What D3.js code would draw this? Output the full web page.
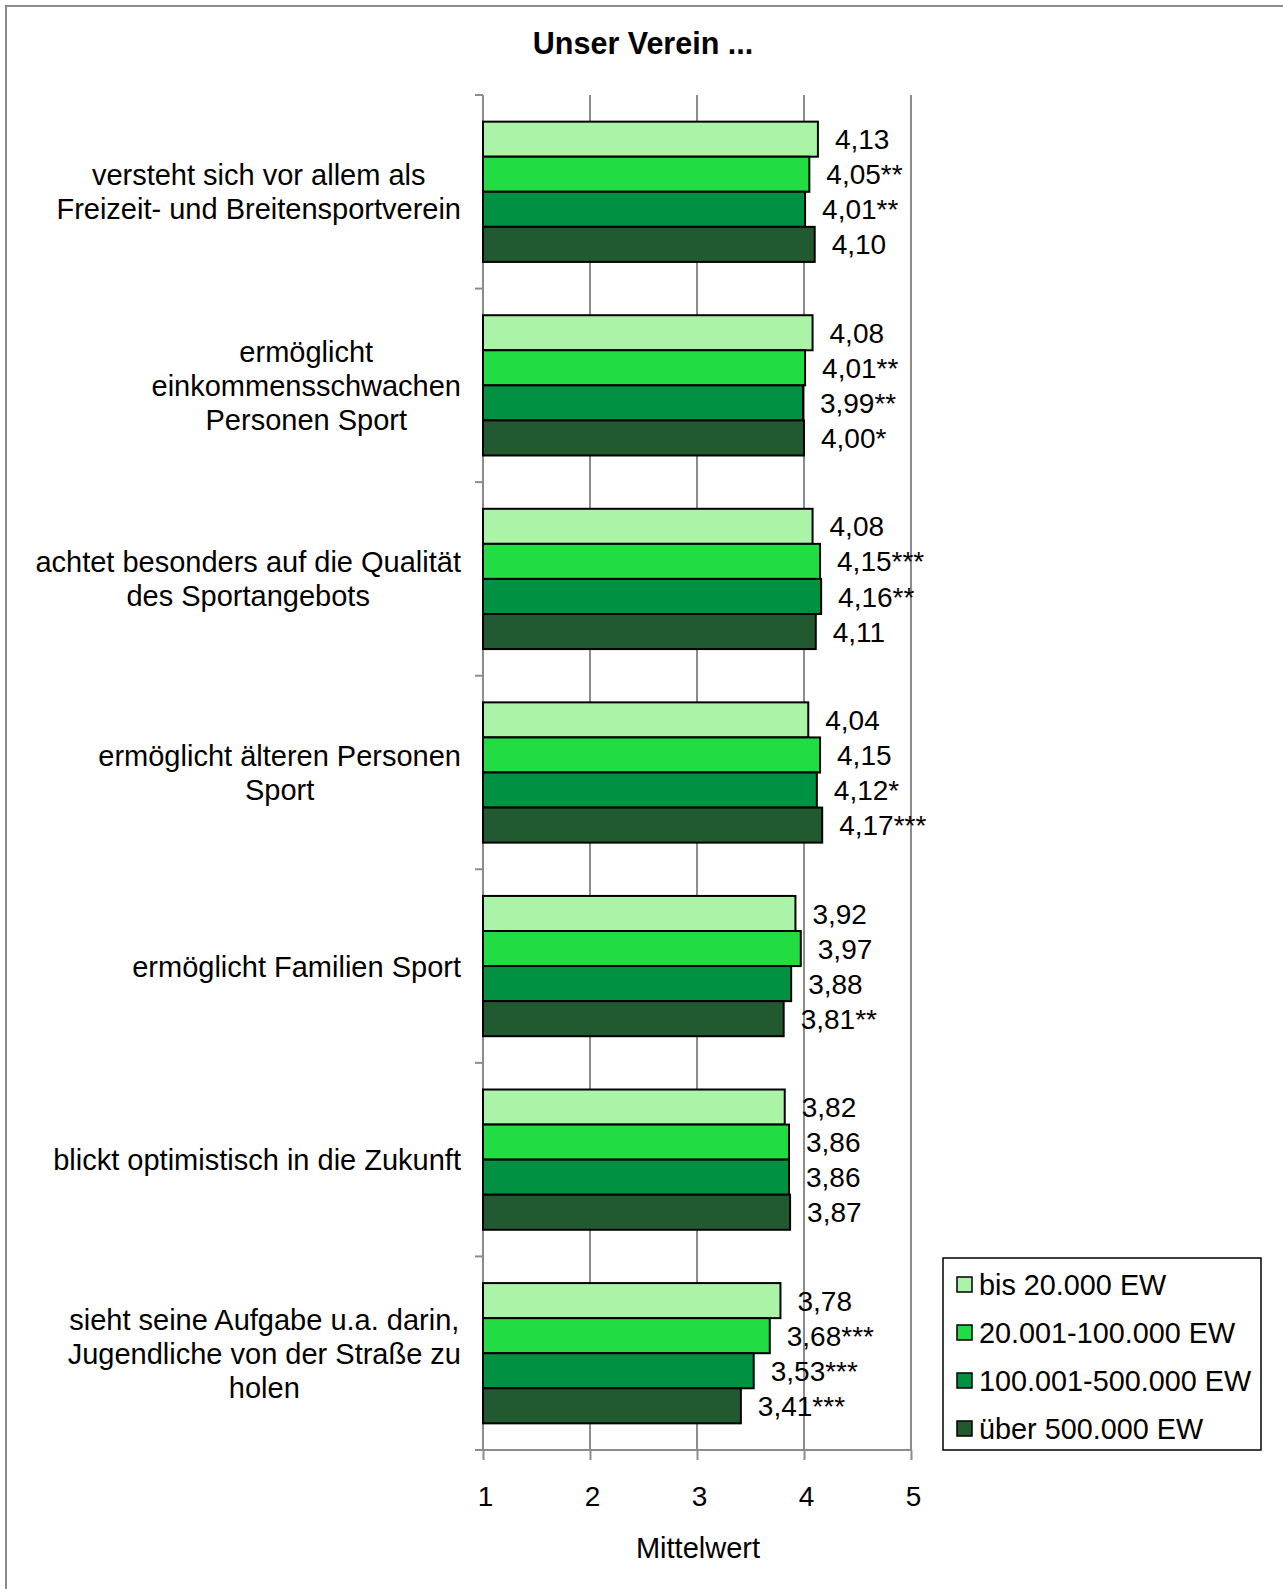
<!DOCTYPE html>
<html>
<head>
<meta charset="utf-8">
<script src="https://cdn.jsdelivr.net/npm/d3@7"></script>
<style>
  body { margin: 0; background: #fff; }
  svg { font-family: "Liberation Sans", Arial, sans-serif; }
</style>
</head>
<body>
<div id="chart"></div>
<script>
(function () {

  /***** Data *****/
  var categories = [
    ["versteht sich vor allem als", "Freizeit- und Breitensportverein"],
    ["ermöglicht", "einkommensschwachen", "Personen Sport"],
    ["achtet besonders auf die Qualität", "des Sportangebots"],
    ["ermöglicht älteren Personen", "Sport"],
    ["ermöglicht Familien Sport"],
    ["blickt optimistisch in die Zukunft"],
    ["sieht seine Aufgabe u.a. darin,", "Jugendliche von der Straße zu", "holen"]
  ]

  var seriesNames = ["bis 20.000 EW", "20.001-100.000 EW", "100.001-500.000 EW", "über 500.000 EW"]

  var bis20k      = [4.13, 4.08, 4.08, 4.04, 3.92, 3.82, 3.78]
  var bis100k     = [4.05, 4.01, 4.15, 4.15, 3.97, 3.86, 3.68]
  var bis500k     = [4.01, 3.99, 4.16, 4.12, 3.88, 3.86, 3.53]
  var ueber500k   = [4.10, 4.00, 4.11, 4.17, 3.81, 3.87, 3.41]

  var sig20k      = ["", "", "", "", "", "", ""]
  var sig100k     = ["**", "**", "***", "", "", "", "***"]
  var sig500k     = ["**", "**", "**", "*", "", "", "***"]
  var sigUeber    = ["", "*", "", "***", "**", "", "***"]

  var xTicks = [1, 2, 3, 4, 5]

  var seriesValues = [bis20k, bis100k, bis500k, ueber500k]
  var seriesSig = [sig20k, sig100k, sig500k, sigUeber]
  var colors = ["#aaf3a7", "#22dc44", "#009142", "#215a30"]

  /***** Layout *****/
  var W = 1283, H = 1589
  var plotTop = 95, plotBottom = 1450, plotLeft = 483, plotRight = 911
  var fmt = v => v.toFixed(2).replace(".", ",")

  var svg = d3.select("#chart").append("svg")
      .attr("width", W).attr("height", H)

  // outer frame
  svg.append("rect")
      .attr("x", 6).attr("y", 6)
      .attr("width", W + 10).attr("height", H + 10)
      .attr("fill", "none").attr("stroke", "#8a8a8a").attr("stroke-width", 2)

  svg.append("text")
      .attr("x", 643).attr("y", 54)
      .attr("text-anchor", "middle")
      .attr("font-size", 30.5).attr("font-weight", "bold")
      .text("Unser Verein ...")

  var x = d3.scaleLinear().domain([1, 5]).range([plotLeft, plotRight])
  var idx = d3.range(categories.length)
  var y0 = d3.scaleBand().domain(idx).range([plotTop, plotBottom]).padding(0)
  var y1 = d3.scaleBand().domain(d3.range(seriesNames.length))
      .range([0, y0.bandwidth()]).paddingInner(0).paddingOuter(0.76)

  // gridlines
  svg.append("g").selectAll("line")
      .data(xTicks.slice(1))
      .join("line")
      .attr("x1", d => x(d)).attr("x2", d => x(d))
      .attr("y1", plotTop).attr("y2", plotBottom)
      .attr("stroke", "#8c8c8c").attr("stroke-width", 2)

  // category axis (left) with boundary ticks
  var yAxis = svg.append("g")
  yAxis.append("line")
      .attr("x1", plotLeft).attr("x2", plotLeft)
      .attr("y1", plotTop).attr("y2", plotBottom)
      .attr("stroke", "#8c8c8c").attr("stroke-width", 2)
  yAxis.selectAll("line.tick")
      .data(idx.concat([categories.length]))
      .join("line").attr("class", "tick")
      .attr("x1", plotLeft - 8).attr("x2", plotLeft)
      .attr("y1", d => d < categories.length ? y0(d) : plotBottom)
      .attr("y2", d => d < categories.length ? y0(d) : plotBottom)
      .attr("stroke", "#8c8c8c").attr("stroke-width", 2)

  // bars
  var groups = svg.append("g").selectAll("g")
      .data(idx)
      .join("g")
      .attr("transform", d => "translate(0," + y0(d) + ")")

  var rowData = c => seriesValues.map((vals, s) => ({ s: s, v: vals[c], sig: seriesSig[s][c] }))

  groups.selectAll("rect")
      .data(rowData)
      .join("rect")
      .attr("x", x(1))
      .attr("y", d => y1(d.s))
      .attr("width", d => x(d.v) - x(1))
      .attr("height", y1.bandwidth())
      .attr("fill", d => colors[d.s])
      .attr("stroke", "#000").attr("stroke-width", 2)

  groups.selectAll("text")
      .data(rowData)
      .join("text")
      .attr("x", d => x(d.v) + 17)
      .attr("y", d => y1(d.s) + y1.bandwidth() / 2)
      .attr("dy", "0.36em")
      .attr("font-size", 28)
      .text(d => fmt(d.v) + d.sig)

  // category labels: lines centered on each other, block right-aligned to the axis
  var labelRight = 461
  var labels = svg.append("g").selectAll("text")
      .data(idx)
      .join("text")
      .attr("font-size", 29)
      .attr("text-anchor", "middle")

  labels.each(function (c) {
    var t = d3.select(this)
    var lines = categories[c]
    var cy = y0(c) + y0.bandwidth() / 2
    var lh = 34
    lines.forEach(function (ln, i) {
      t.append("tspan")
          .attr("y", cy + (i - (lines.length - 1) / 2) * lh)
          .attr("dy", "0.36em")
          .text(ln)
    })
    var maxW = d3.max(t.selectAll("tspan").nodes(), n => n.getComputedTextLength())
    t.selectAll("tspan").attr("x", labelRight - maxW / 2)
  })

  // value axis (bottom)
  var xAxis = svg.append("g")
      .attr("transform", "translate(0," + plotBottom + ")")
      .call(d3.axisBottom(x).tickValues(xTicks).tickFormat(d3.format("d"))
        .tickSize(10).tickPadding(26).tickSizeOuter(0))
  xAxis.select(".domain").remove()
  xAxis.selectAll(".tick line").attr("stroke", "#8c8c8c").attr("stroke-width", 2)
  xAxis.selectAll(".tick text")
      .attr("font-size", 28).attr("font-family", "Liberation Sans, Arial, sans-serif")
      .attr("fill", "#000")
      .attr("dx", 2)
  xAxis.append("line")
      .attr("x1", plotLeft - 8).attr("x2", plotRight)
      .attr("y1", 0).attr("y2", 0)
      .attr("stroke", "#8c8c8c").attr("stroke-width", 2)

  svg.append("text")
      .attr("x", 698).attr("y", 1558)
      .attr("text-anchor", "middle")
      .attr("font-size", 29)
      .text("Mittelwert")

  // legend
  var legend = svg.append("g")
  legend.append("rect")
      .attr("x", 943).attr("y", 1258)
      .attr("width", 318).attr("height", 192)
      .attr("fill", "#fff").attr("stroke", "#000").attr("stroke-width", 1.5)

  var items = legend.selectAll("g")
      .data(seriesNames)
      .join("g")
      .attr("transform", (d, i) => "translate(957," + (1285 + i * 48) + ")")
  items.append("rect")
      .attr("x", 0).attr("y", -8)
      .attr("width", 15).attr("height", 15)
      .attr("fill", (d, i) => colors[i])
      .attr("stroke", "#000").attr("stroke-width", 1.5)
  items.append("text")
      .attr("x", 22).attr("dy", "0.36em")
      .attr("font-size", 28.8)
      .text(d => d)

})()
</script>
</body>
</html>
